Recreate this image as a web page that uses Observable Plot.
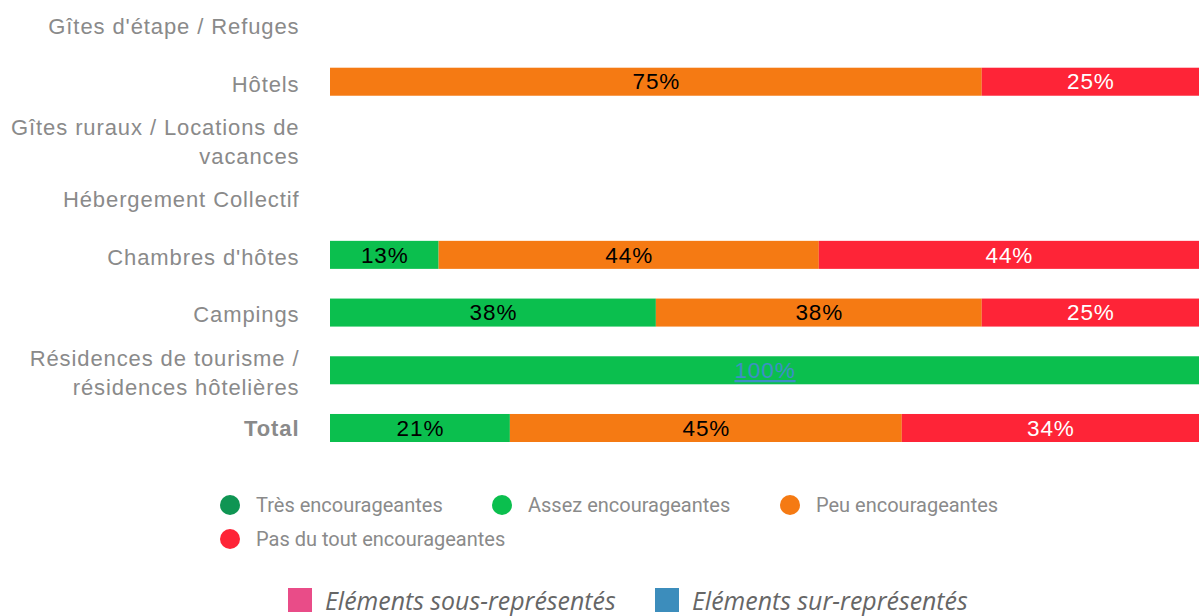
<!DOCTYPE html>
<html>
<head>
<meta charset="utf-8">
<script src="https://cdn.jsdelivr.net/npm/d3@7"></script>
<script src="https://cdn.jsdelivr.net/npm/@observablehq/plot@0.6"></script>
<style>
  html, body { margin: 0; padding: 0; background: #fff; }
  #wrap { position: relative; width: 1199px; height: 616px; overflow: hidden; }
  #chart { position: absolute; left: 0; top: 0; }
  .leg { position: absolute; font-family: Roboto, "Liberation Sans", sans-serif; font-size: 20px; color: #8a8a8a; white-space: nowrap; line-height: 20px; }
  .leg .dot { position: absolute; width: 20px; height: 20px; border-radius: 50%; left: -36px; top: 0; }
  .leg2 { position: absolute; font-family: "Open Sans", sans-serif; font-style: italic; font-size: 24.9px; color: #666; white-space: nowrap; line-height: 24px; }
  .leg2 .sq { position: absolute; width: 24px; height: 24px; left: -37px; top: 0px; }
</style>
</head>
<body>
<div id="wrap">
  <div id="chart"></div>
  <div id="legend"></div>
</div>
<script>
// ---- data ----
const categories = [
  "Gîtes d'étape / Refuges",
  "Hôtels",
  "Gîtes ruraux / Locations de\nvacances",
  "Hébergement Collectif",
  "Chambres d'hôtes",
  "Campings",
  "Résidences de tourisme /\nrésidences hôtelières",
  "Total"
];
const series = ["Très encourageantes", "Assez encourageantes", "Peu encourageantes", "Pas du tout encourageantes"];
const seriesColors = ["#0f9553", "#0bbf4e", "#f57a13", "#fe2437"];
// values per category, in series order (percent)
const tres   = [0, 0,    0, 0, 0,     0,    0,   0];
const assez  = [0, 0,    0, 0, 12.5,  37.5, 100, 20.7];
const peu    = [0, 75,   0, 0, 43.75, 37.5, 0,   45.1];
const pasdu  = [0, 25,   0, 0, 43.75, 25,   0,   34.2];
const overRepresented = [["Résidences de tourisme /\nrésidences hôtelières", "Assez encourageantes"]];
const bottomLegend = [["Eléments sous-représentés", "#e94c88"], ["Eléments sur-représentés", "#3c8dbc"]];

// ---- build table ----
const valuesBySeries = [tres, assez, peu, pasdu];
const rows = [];
categories.forEach((c, i) => {
  let acc = 0;
  series.forEach((s, j) => {
    const v = valuesBySeries[j][i];
    if (v > 0) {
      const over = overRepresented.some(([oc, os]) => oc === c && os === s);
      rows.push({cat: c, series: s, value: v, x1: acc, x2: acc + v, mid: acc + v / 2,
                 label: Math.round(v) + "%", over,
                 textColor: over ? "#3f8fc6" : (s === "Pas du tout encourageantes" ? "#ffffff" : "#000000")});
    }
    acc += v;
  });
});

const labelFont = "'Liberation Sans', Arial, sans-serif";

const plot = Plot.plot({
  width: 1199,
  height: 470,
  marginLeft: 330,
  marginRight: 0,
  marginTop: 10,
  marginBottom: 28,
  style: {fontFamily: labelFont, background: "transparent"},
  x: {domain: [0, 100], axis: null},
  y: {domain: categories, paddingInner: 0.5145, paddingOuter: 0, round: false, axis: null},
  color: {domain: series, range: seriesColors},
  marks: [
    Plot.barX(rows, {y: "cat", x1: "x1", x2: "x2", fill: "series", inset: 0, insetTop: 0, insetBottom: 0}),
    Plot.text(rows, {y: "cat", x: "mid", text: "label", fill: "textColor", fontSize: 22.5, fontFamily: labelFont}),
    Plot.text(categories.filter(c => c !== "Total"), {y: d => d, frameAnchor: "left", dx: -31, textAnchor: "end",
      fill: "#8a8a8a", fontSize: 22, lineHeight: 1.32, fontFamily: labelFont}),
    Plot.text(categories.filter(c => c === "Total"), {y: d => d, frameAnchor: "left", dx: -31, textAnchor: "end",
      fill: "#8a8a8a", fontSize: 22, fontWeight: "bold", fontFamily: labelFont})
  ]
});
document.getElementById("chart").appendChild(plot);
d3.select(plot).selectAll("text").style("letter-spacing", "0.9px");
d3.select(plot).selectAll("text").filter(function() { return this.textContent === "100%"; })
  .attr("text-decoration", "underline");

// ---- legends ----
const legend = document.getElementById("legend");
const legPos = [[256, 495], [528, 495], [816, 495], [256, 529]];
series.forEach((s, i) => {
  const d = document.createElement("div");
  d.className = "leg";
  d.style.left = legPos[i][0] + "px";
  d.style.top = legPos[i][1] + "px";
  d.innerHTML = `<span class="dot" style="background:${seriesColors[i]}"></span>${s}`;
  legend.appendChild(d);
});
const leg2Pos = [[325, 588], [692, 588]];
bottomLegend.forEach(([t, c], i) => {
  const d = document.createElement("div");
  d.className = "leg2";
  d.style.left = leg2Pos[i][0] + "px";
  d.style.top = leg2Pos[i][1] + "px";
  d.innerHTML = `<span class="sq" style="background:${c}"></span>${t}`;
  legend.appendChild(d);
});
</script>
</body>
</html>
